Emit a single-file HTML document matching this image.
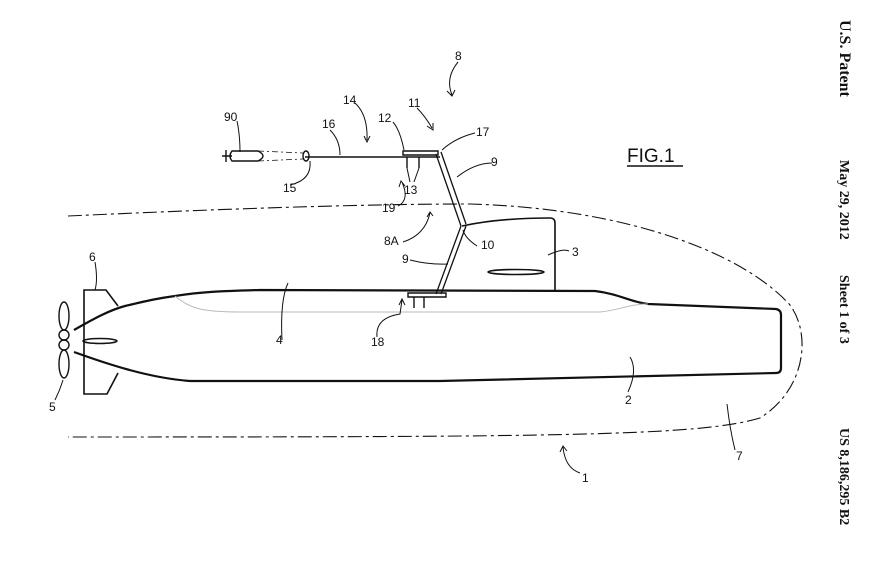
<!DOCTYPE html>
<html><head><style>
html,body{margin:0;padding:0;background:#fff;}
svg{display:block}
text{font-family:"Liberation Sans",sans-serif;font-size:12px;fill:#111}
.v{font-family:"Liberation Serif",serif;font-weight:bold;font-size:14px}
</style></head><body>
<svg width="886" height="575" viewBox="0 0 886 575" fill="none" stroke="#111" stroke-width="1.4">
<!-- envelope -->
<path d="M68,216 C200,210 350,204 470,204 C620,208 740,250 790,305 C812,335 805,390 760,418 C700,436 560,437 68,437" stroke-dasharray="14,4,3,4" stroke-width="1.1"/>
<!-- hull -->
<path d="M74,330 C95,318 110,310 125,306 C150,300 160,298 175,296 C200,292 220,291 260,290 L595,291 C620,294 630,302 648,304 L776,309 Q781,310 781,315 L781,368 Q781,373 776,373 L440,381 L190,381 C150,378 110,365 74,352" stroke-width="2.2"/>
<path d="M175,296 C190,308 200,312 240,312 L600,312 C620,310 630,304 648,304" stroke="#bbb" stroke-width="1"/>
<!-- fin 6 -->
<path d="M118,306 L106,290 L84,290 L84,394 L107,394 L118,373" stroke-width="1.6"/>
<!-- propeller -->
<ellipse cx="64" cy="316" rx="5" ry="14"/><ellipse cx="64" cy="364" rx="5" ry="14"/>
<ellipse cx="64" cy="335" rx="5" ry="5"/><ellipse cx="64" cy="345" rx="5" ry="5"/>
<ellipse cx="100" cy="341" rx="17" ry="2.5" stroke-width="1.6"/>
<!-- sail -->
<path d="M462,226 C490,220 520,218 550,218 Q555,218 555,223 L555,291" stroke-width="1.6"/>
<ellipse cx="516" cy="272" rx="28" ry="2.5" stroke-width="1.6"/>
<!-- mast -->
<path d="M436,154 L461,226 M441,152 L466,224" stroke-width="1.3"/>
<path d="M461,226 L436,294 M466,226 L441,294" stroke-width="1.3"/>
<path d="M408,293 L446,293 L446,297 L408,297 Z M414,297 V308 M424,297 V308"/>
<!-- tow -->
<path d="M305,157 L440,157" stroke-width="1.6"/>
<path d="M403,151 L438,151 L438,155 L403,155 Z"/>
<path d="M407,157 V168 M419,157 V168"/>
<ellipse cx="306" cy="156" rx="3" ry="5"/>
<path d="M258,151 L303,153 M258,161 L303,159" stroke-dasharray="6,3,2,3" stroke-width="0.8"/>
<path d="M232,151 L258,151 Q268,156 258,161 L232,161 Q228,156 232,151 Z"/>
<path d="M226,150 V162 M222,156 L232,156"/>
<!-- leader lines -->
<g stroke-width="1">
<path d="M237,121 Q240,135 240,152"/>
<path d="M310,161 Q312,180 290,185"/>
<path d="M330,130 Q340,140 340,155"/>
<path d="M355,103 Q368,115 367,140 M364,136 L367,142 L370,136"/>
<path d="M393,122 Q400,130 404,150"/>
<path d="M417,108 Q425,116 432,128 M427,126 L433,130 L433,123"/>
<path d="M475,133 Q455,138 442,150"/>
<path d="M492,163 Q475,163 457,177"/>
<path d="M407,168 L410,182 M419,168 L414,182"/>
<path d="M398,206 Q410,200 402,182 M399,187 L401,181 L405,186"/>
<path d="M403,242 Q425,235 430,213 M427,217 L430,212 L433,216"/>
<path d="M477,246 Q465,238 463,230"/>
<path d="M410,260 Q430,265 448,264"/>
<path d="M569,251 Q563,248 548,255"/>
<path d="M282,340 Q280,300 288,283"/>
<path d="M377,337 Q375,318 400,314 L402,300 M399,305 L402,299 L405,305"/>
<path d="M95,262 Q98,280 95,290"/>
<path d="M55,400 Q60,390 63,380"/>
<path d="M628,392 Q638,370 630,357"/>
<path d="M735,450 Q730,430 727,404"/>
<path d="M580,473 Q565,468 563,447 M560,452 L563,446 L567,451"/>
<path d="M458,62 Q445,78 452,95 M447,91 L452,96 L455,90"/>
</g>
<!-- labels -->
<g stroke="none">
<text x="224" y="121">90</text>
<text x="322" y="128">16</text>
<text x="343" y="104">14</text>
<text x="378" y="122">12</text>
<text x="408" y="107">11</text>
<text x="476" y="136">17</text>
<text x="491" y="166">9</text>
<text x="404" y="194">13</text>
<text x="283" y="192">15</text>
<text x="382" y="212">19</text>
<text x="384" y="245">8A</text>
<text x="481" y="249">10</text>
<text x="402" y="263">9</text>
<text x="572" y="256">3</text>
<text x="276" y="344">4</text>
<text x="371" y="346">18</text>
<text x="89" y="261">6</text>
<text x="49" y="411">5</text>
<text x="625" y="404">2</text>
<text x="736" y="460">7</text>
<text x="582" y="482">1</text>
<text x="455" y="60">8</text>
<text x="627" y="162" style="font-size:19px">FIG.1</text>
</g>
<path d="M627,166 L683,166" stroke-width="1.5"/>
<g stroke="none">
<text class="v" transform="translate(840,20) rotate(90)" style="font-size:16px">U.S. Patent</text>
<text class="v" transform="translate(840,160) rotate(90)">May 29, 2012</text>
<text class="v" transform="translate(840,275) rotate(90)">Sheet 1 of 3</text>
<text class="v" transform="translate(840,428) rotate(90)">US 8,186,295 B2</text>
</g>
</svg>
</body></html>
